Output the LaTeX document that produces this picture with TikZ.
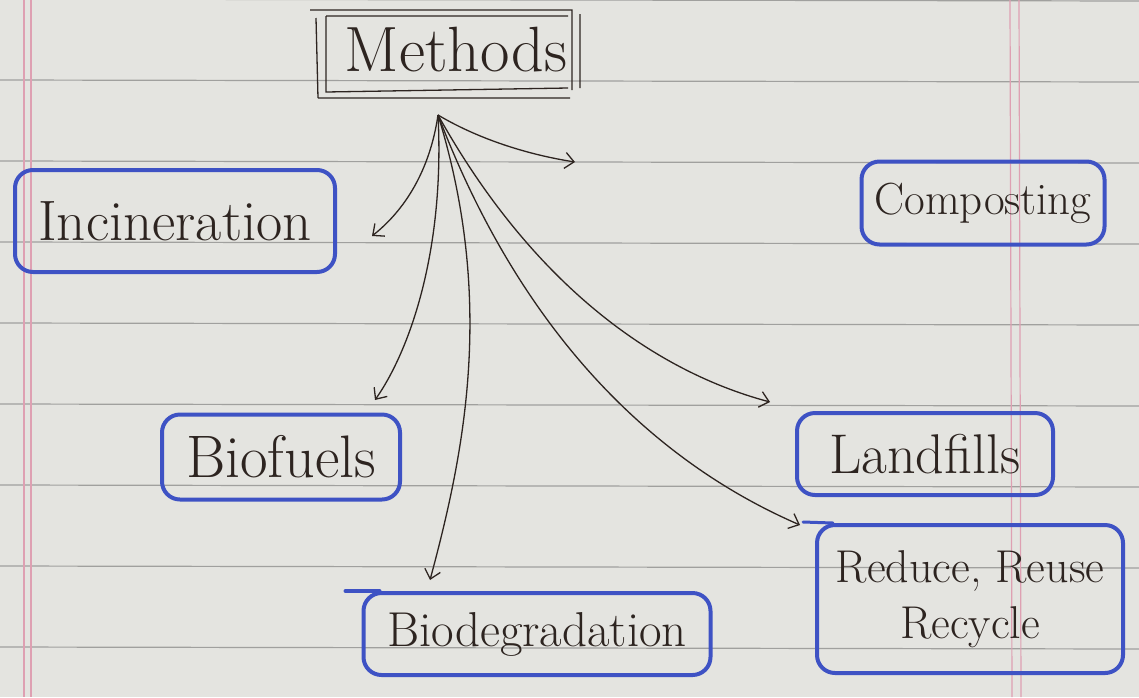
\documentclass[tikz,border=0pt]{standalone}
\usetikzlibrary{arrows.meta}
\definecolor{paper}{RGB}{228,228,224}
\definecolor{rule}{RGB}{160,160,158}
\definecolor{margin}{RGB}{222,160,178}
\definecolor{pen}{RGB}{62,82,196}
\definecolor{ink}{RGB}{45,36,32}
\tikzset{
  box/.style={draw=pen, line width=4pt, rounded corners=18pt, text=ink, align=center, inner sep=0pt},
  link/.style={draw=ink, line width=1.3pt, -{Straight Barb[length=9pt,width=16pt,line width=1.3pt]}},
  ruling/.style={draw=rule, line width=1.2pt},
  marg/.style={draw=margin, line width=1.2pt}
}
\begin{document}
\begin{tikzpicture}[x=1pt,y=-1pt]
\fill[paper] (0,0) rectangle (1139,697);
\useasboundingbox (0,0) rectangle (1139,697);
% ruled lines
\foreach \yy in {-1,80,161,242,323,404,485,566,647}
  \draw[ruling] (0,\yy) -- (1139,\yy+2);
% margins
\draw[marg] (24,0) -- (24,697);
\draw[marg] (31,0) -- (31,697);
\draw[marg] (1010,0) -- (1012,697);
\draw[marg] (1019,0) -- (1021,697);
% title
\node[text=ink, font=\fontsize{64}{66}\selectfont] (methods) at (456,50) {Methods};
\draw[ink, line width=1.3pt] (310,10) -- (572,10) -- (572,90) (318,98) -- (570,98) (316,18) -- (318,98) (326,16) -- (326,92) -- (568,88) (580,14) -- (580,88) (326,16) -- (568,16);
% boxes
\node[box, minimum width=320pt, minimum height=102pt, font=\fontsize{57}{59}\selectfont] (incin) at (175,221) {Incineration};
\node[box, minimum width=243pt, minimum height=83pt, font=\fontsize{45}{47}\selectfont] (compost) at (983,203) {Composting};
\node[box, minimum width=238pt, minimum height=85pt, font=\fontsize{60}{62}\selectfont] (biofuel) at (281,457) {Biofuels};
\node[box, minimum width=256pt, minimum height=82pt, font=\fontsize{56}{58}\selectfont] (landfill) at (925,454) {Landfills};
\node[box, minimum width=306pt, minimum height=148pt, font=\fontsize{46}{56}\selectfont] (reduce) at (970,599) {Reduce, Reuse\\Recycle};
\node[box, minimum width=347pt, minimum height=82pt, font=\fontsize{49}{51}\selectfont] (biodeg) at (537,634) {Biodegradation};
% overshooting pen strokes at box corners
\draw[pen, line width=4pt, line cap=round] (biodeg.north west) ++(18,0) -- ++(-34,0);
\draw[pen, line width=3pt, line cap=round] (reduce.north west) ++(18,0) -- ++(-30,-1);
% arrows
\coordinate (hub) at (438,115);
\coordinate (tC) at (575,162);
\coordinate (tI) at (372,236);
\coordinate (tB) at (375,400);
\coordinate (tD) at (430,580);
\coordinate (tL) at (770,402);
\coordinate (tR) at (800,525);
\draw[link] (hub) .. controls (480,140) and (530,155) .. (tC);
\draw[link] (hub) .. controls (430,170) and (405,210) .. (tI);
\draw[link] (hub) .. controls (445,250) and (410,350) .. (tB);
\draw[link] (hub) .. controls (495,300) and (465,450) .. (tD);
\draw[link] (hub) .. controls (530,280) and (650,370) .. (tL);
\draw[link] (hub) .. controls (520,330) and (650,460) .. (tR);
\end{tikzpicture}
\end{document}
